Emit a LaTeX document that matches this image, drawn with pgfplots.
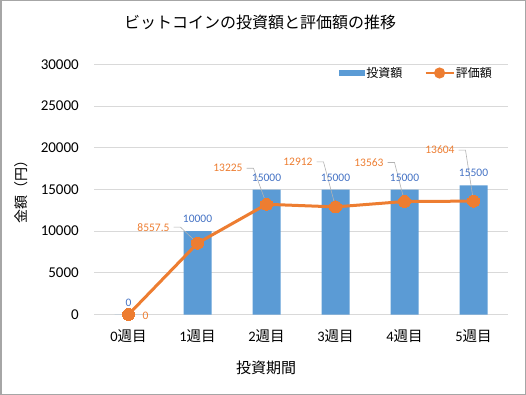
\documentclass[border=0pt]{standalone}
\usepackage{pgfplots}
\pgfplotsset{compat=1.18}
\usepackage{pgfplotstable}
\usetikzlibrary{calc}
\usepackage{fontspec}
\setmainfont{Carlito}
\newfontfamily\cjk{Noto Sans CJK JP}
\definecolor{barblue}{HTML}{5B9BD5}
\definecolor{lineorange}{HTML}{ED7D31}
\definecolor{lblblue}{HTML}{4472C4}
\definecolor{gridgray}{HTML}{D9D9D9}
\pgfkeys{/pgf/number format/.cd, 1000 sep={}, assume math mode=true}

\pgfplotstableread{
x y
0 0
1 10000
2 15000
3 15000
4 15000
5 15500
}\investtable
\pgfplotstableread{
x y dx dy
0 0 20 -1
1 8557.5 -28 16
2 13225 -24 36
3 12912 -23 45
4 13563 -21 39
5 13604 -19 51
}\valuetable

\begin{document}
\begin{tikzpicture}
\path[use as bounding box] (0pt,0pt) rectangle (526pt,-395pt);
\draw[gray!70, line width=1.5pt] (0.75pt,-0.75pt) rectangle (525.25pt,-394.25pt);
\begin{axis}[
  at={(94pt,-314.5pt)}, anchor=south west,
  scale only axis, width=414pt, height=250pt,
  xmin=-0.5, xmax=5.5, ymin=0, ymax=30000,
  clip=false,
  axis line style={draw=none},
  tick style={draw=none},
  major tick length=0pt,
  ymajorgrids,
  major grid style={gridgray, line width=0.8pt},
  ytick={0,5000,...,30000},
  scaled y ticks=false,
  yticklabel style={font=\fontsize{15}{18}\selectfont, inner sep=0pt, anchor=east, xshift=-15pt},
  xtick={0,...,5},
  xticklabels={0{\cjk 週目},1{\cjk 週目},2{\cjk 週目},3{\cjk 週目},4{\cjk 週目},5{\cjk 週目}},
  xticklabel style={font=\fontsize{14.5}{17}\selectfont, inner sep=0pt, anchor=north, yshift=-15pt},
  legend columns=2,
  legend style={at={(0.778,0.966)}, anchor=center, draw=none, fill=none,
    font={\cjk\fontsize{12}{14}\selectfont},
    /tikz/every even column/.append style={column sep=21pt},
    nodes={inner sep=1pt}},
]
\addplot[ybar, bar width=28pt, fill=barblue, draw=none,
  point meta=explicit,
  nodes near coords,
  every node near coord/.append style={font=\fontsize{11.5}{13}\selectfont, text=lblblue, inner sep=0pt, anchor=base, yshift=8.5pt},
  legend image code/.code={\fill[barblue] (0pt,-3pt) rectangle (26pt,3pt);}
] table[x=x, y=y, meta=y] {\investtable};
\addlegendentry{投資額}

\draw[gray!60, line width=0.6pt] ($(axis cs:1,8557.5)+(-24pt,16pt)$) -- ++(7pt,0pt) -- (axis cs:1,8557.5);
\draw[gray!60, line width=0.6pt] ($(axis cs:2,13225)+(-20pt,36pt)$) -- ++(7pt,0pt) -- (axis cs:2,13225);
\draw[gray!60, line width=0.6pt] ($(axis cs:3,12912)+(-19pt,45pt)$) -- ++(7pt,0pt) -- (axis cs:3,12912);
\draw[gray!60, line width=0.6pt] ($(axis cs:4,13563)+(-17pt,39pt)$) -- ++(7pt,0pt) -- (axis cs:4,13563);
\draw[gray!60, line width=0.6pt] ($(axis cs:5,13604)+(-15pt,51pt)$) -- ++(7pt,0pt) -- (axis cs:5,13604);

\addplot[lineorange, line width=3pt, mark=*, mark size=6pt,
  mark options={fill=lineorange, draw=lineorange, line width=0pt},
  point meta=explicit,
  visualization depends on={\thisrow{dx}\as\dx},
  visualization depends on={\thisrow{dy}\as\dy},
  nodes near coords,
  every node near coord/.append style={font=\fontsize{11.5}{13}\selectfont, text=lineorange, inner sep=0pt, anchor=east, xshift=\dx pt, yshift=\dy pt},
  legend image code/.code={\draw[lineorange, line width=2.5pt] (0pt,0pt) -- (28pt,0pt); \fill[lineorange] (14pt,0pt) circle (4pt);}
] table[x=x, y=y, meta=y] {\valuetable};
\addlegendentry{評価額}
\end{axis}
\node[font={\cjk\fontsize{16}{19}\selectfont}] at (260pt,-22pt) {ビットコインの投資額と評価額の推移};
\node[font={\cjk\fontsize{15}{18}\selectfont}] at (266pt,-368pt) {投資期間};
\node[font={\cjk\fontsize{14}{17}\selectfont}, rotate=90] at (21pt,-188pt) {金額（円）};
\end{tikzpicture}
\end{document}
